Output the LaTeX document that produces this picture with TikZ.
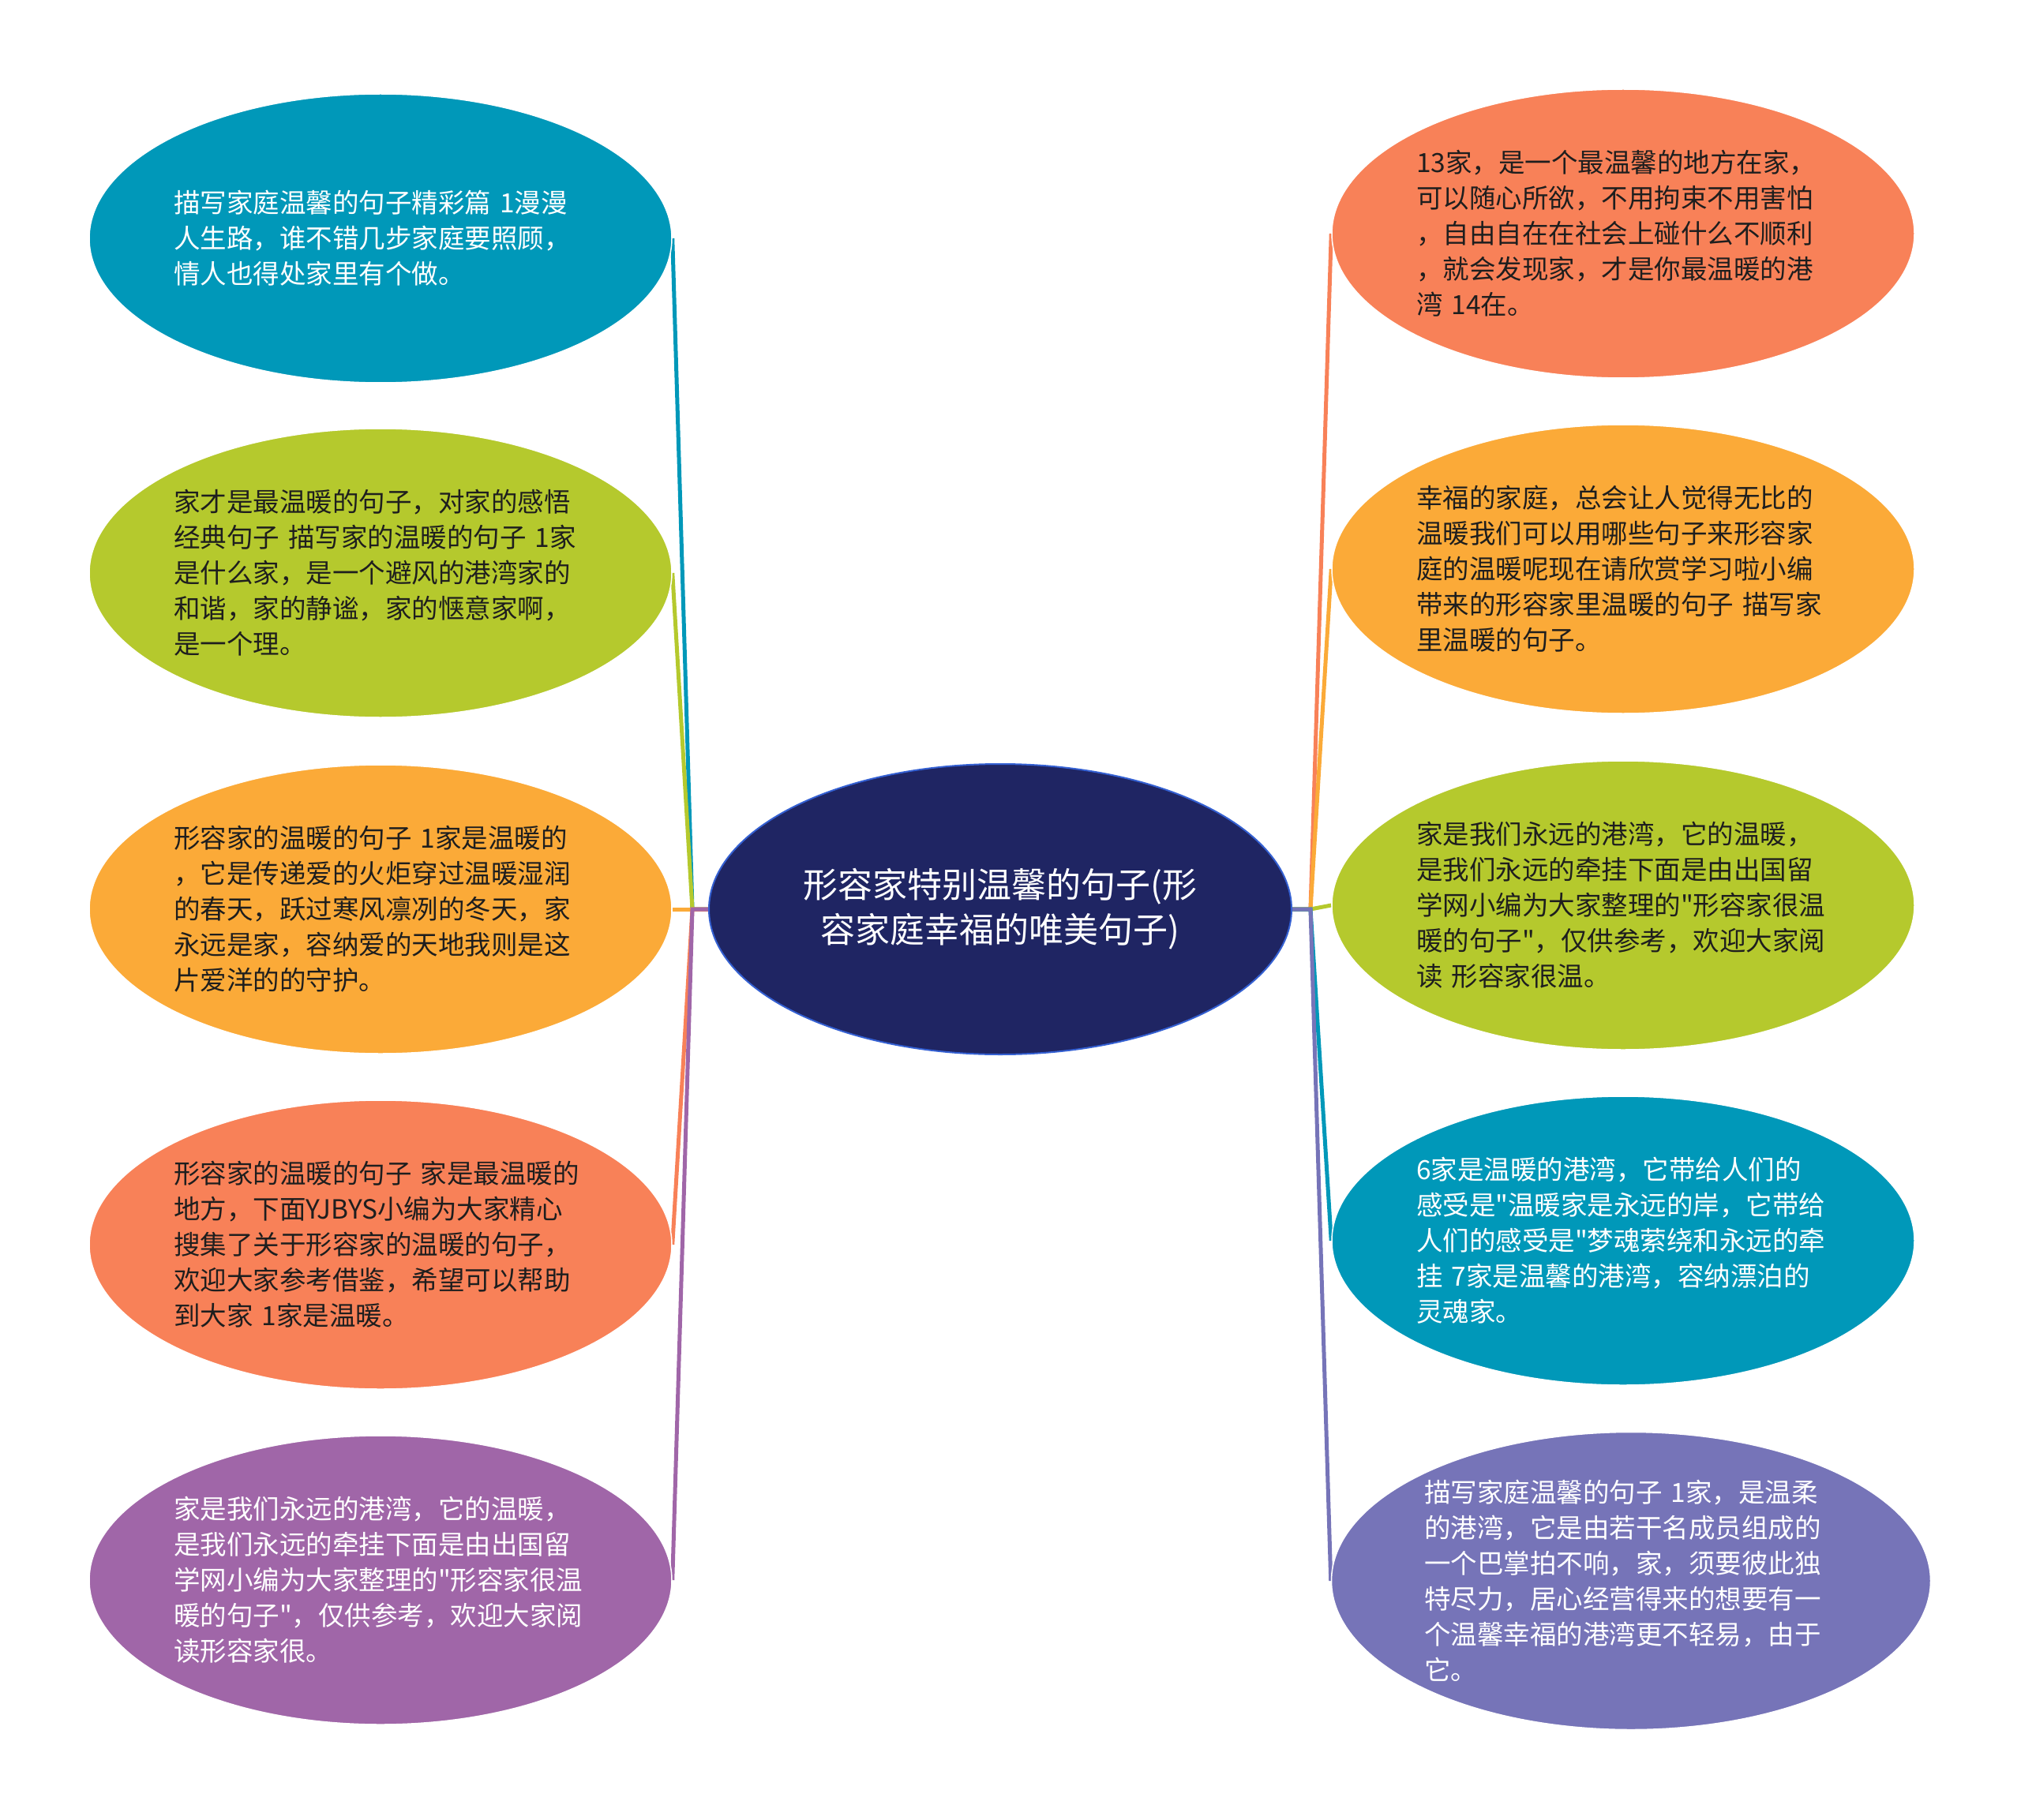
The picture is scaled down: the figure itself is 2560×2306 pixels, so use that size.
\documentclass[tikz,border=0pt]{standalone}
\usepackage{fontspec}
\setmainfont{Noto Sans CJK SC}[Ligatures=TeXOff]
\usetikzlibrary{shapes.geometric}
\definecolor{cteal}{RGB}{0,152,185}
\definecolor{cgreen}{RGB}{181,201,45}
\definecolor{corange}{RGB}{251,170,56}
\definecolor{ccoral}{RGB}{248,129,88}
\definecolor{cpurple}{RGB}{160,102,168}
\definecolor{clav}{RGB}{118,116,184}
\definecolor{cnavy}{RGB}{31,37,99}
\definecolor{cnavyedge}{RGB}{52,96,210}
\definecolor{cdark}{RGB}{30,30,30}
\pgfdeclarelayer{bg}
\pgfsetlayers{bg,main}
\begin{document}
\begin{tikzpicture}[x=1pt,y=-1pt,
  bubble/.style={ellipse, minimum width=738pt, minimum height=366pt, inner sep=0pt, draw=white, line width=1.5pt},
  txt/.style={text width=524pt, align=left, inner sep=0pt, font=\fontsize{33.5}{45}\selectfont},
  light/.style={txt, text=white},
  dark/.style={txt, text=cdark},
  link/.style={line width=5pt},
  root/.style={ellipse, minimum width=738pt, minimum height=368pt, inner sep=0pt, fill=cnavy, draw=cnavyedge, line width=2pt},
]
\useasboundingbox (0,0) rectangle (2560,2306);

% centre
\node[root] (C) at (1267,1152) {};
\node[text=white, align=center, inner sep=0pt, font=\fontsize{44}{57}\selectfont] (Ct) at (C) {形容家特别温馨的句子(形\\容家庭幸福的唯美句子)};

\coordinate (JL) at (877,1152);
\coordinate (JR) at (1660,1152);

% left
\node[bubble, fill=cteal] (L1) at (482,302) {};
\node[light] (L1t) at (L1) {描写家庭温馨的句子精彩篇 1漫漫\\人生路，谁不错几步家庭要照顾，\\情人也得处家里有个做。};
\node[bubble, fill=cgreen] (L2) at (482,726) {};
\node[dark] (L2t) at (L2) {家才是最温暖的句子，对家的感悟\\经典句子 描写家的温暖的句子 1家\\是什么家，是一个避风的港湾家的\\和谐，家的静谧，家的惬意家啊，\\是一个理。};
\node[bubble, fill=corange] (L3) at (482,1152) {};
\node[dark] (L3t) at (L3) {形容家的温暖的句子 1家是温暖的\\，它是传递爱的火炬穿过温暖湿润\\的春天，跃过寒风凛冽的冬天，家\\永远是家，容纳爱的天地我则是这\\片爱洋的的守护。};
\node[bubble, fill=ccoral] (L4) at (482,1577) {};
\node[dark] (L4t) at (L4) {形容家的温暖的句子 家是最温暖的\\地方，下面YJBYS小编为大家精心\\搜集了关于形容家的温暖的句子，\\欢迎大家参考借鉴，希望可以帮助\\到大家 1家是温暖。};
\node[bubble, fill=cpurple] (L5) at (482,2002) {};
\node[light] (L5t) at (L5) {家是我们永远的港湾，它的温暖，\\是我们永远的牵挂下面是由出国留\\学网小编为大家整理的"形容家很温\\暖的句子"，仅供参考，欢迎大家阅\\读形容家很。};

% right
\node[bubble, fill=ccoral] (R1) at (2056,296) {};
\node[dark] (R1t) at (R1) {13家，是一个最温馨的地方在家，\\可以随心所欲，不用拘束不用害怕\\，自由自在在社会上碰什么不顺利\\，就会发现家，才是你最温暖的港\\湾 14在。};
\node[bubble, fill=corange] (R2) at (2056,721) {};
\node[dark] (R2t) at (R2) {幸福的家庭，总会让人觉得无比的\\温暖我们可以用哪些句子来形容家\\庭的温暖呢现在请欣赏学习啦小编\\带来的形容家里温暖的句子 描写家\\里温暖的句子。};
\node[bubble, fill=cgreen] (R3) at (2056,1147) {};
\node[dark] (R3t) at (R3) {家是我们永远的港湾，它的温暖，\\是我们永远的牵挂下面是由出国留\\学网小编为大家整理的"形容家很温\\暖的句子"，仅供参考，欢迎大家阅\\读 形容家很温。};
\node[bubble, fill=cteal] (R4) at (2056,1572) {};
\node[light] (R4t) at (R4) {6家是温暖的港湾，它带给人们的\\感受是"温暖家是永远的岸，它带给\\人们的感受是"梦魂萦绕和永远的牵\\挂 7家是温馨的港湾，容纳漂泊的\\灵魂家。};
\node[bubble, fill=clav, minimum width=759pt, minimum height=377pt] (R5) at (2066,2003) {};
\node[light] (R5t) at (R5) {描写家庭温馨的句子 1家，是温柔\\的港湾，它是由若干名成员组成的\\一个巴掌拍不响，家，须要彼此独\\特尽力，居心经营得来的想要有一\\个温馨幸福的港湾更不轻易，由于\\它。};

\begin{pgfonlayer}{bg}
\fill[white] (0,0) rectangle (2560,2306);
\draw[link, cteal] (C.west) -- (JL) -- (L1.east);
\draw[link, cgreen] (C.west) -- (JL) -- (L2.east);
\draw[link, corange] (C.west) -- (JL) -- (L3.east);
\draw[link, ccoral] (C.west) -- (JL) -- (L4.east);
\draw[link, cpurple] (C.west) -- (JL) -- (L5.east);
\draw[link, ccoral] (C.east) -- (JR) -- (R1.west);
\draw[link, corange] (C.east) -- (JR) -- (R2.west);
\draw[link, cgreen] (C.east) -- (JR) -- (R3.west);
\draw[link, cteal] (C.east) -- (JR) -- (R4.west);
\draw[link, clav] (C.east) -- (JR) -- (R5.west);
\end{pgfonlayer}
\end{tikzpicture}
\end{document}
